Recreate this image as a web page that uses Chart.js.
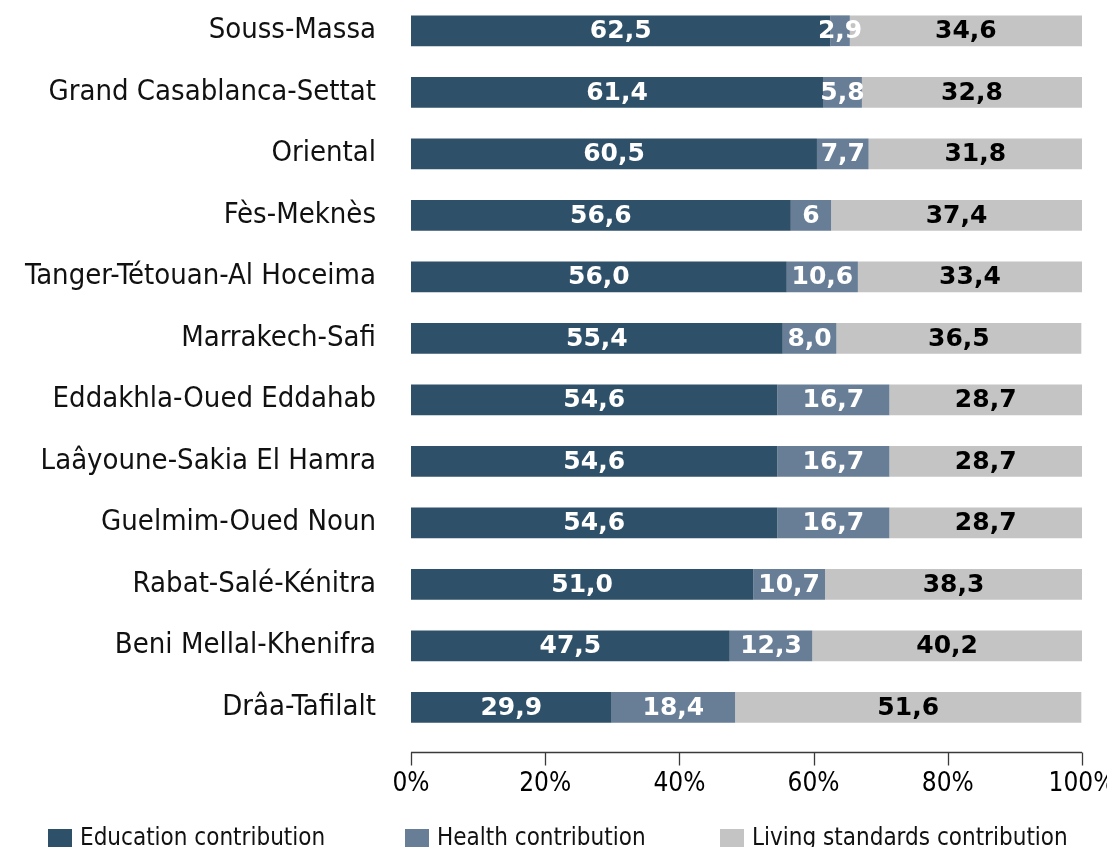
<!DOCTYPE html>
<html><head><meta charset="utf-8">
<script src="https://cdn.jsdelivr.net/npm/chart.js@4.4.1/dist/chart.umd.min.js"></script>
<style>
html,body{margin:0;padding:0;background:#fff;overflow:hidden;}
#wrap{position:relative;width:1107px;height:847px;overflow:hidden;}
#legend{position:absolute;left:48px;top:823px;display:flex;align-items:flex-start;white-space:nowrap;
  font-family:'DejaVu Sans Condensed','DejaVu Sans',sans-serif;font-size:24px;line-height:28px;color:#111;}
#legend .item{display:flex;align-items:flex-start;}
#legend .item:nth-child(1){width:357px;}
#legend .item:nth-child(2){width:315px;}
#legend .box{display:inline-block;width:24px;height:24px;margin-top:6px;margin-right:8px;}
</style></head><body>
<div id="wrap"><canvas id="c"></canvas><div id="legend"></div></div>
<script>
const categories = ['Souss-Massa','Grand Casablanca-Settat','Oriental','Fès-Meknès','Tanger-Tétouan-Al Hoceima','Marrakech-Safi','Eddakhla-Oued Eddahab','Laâyoune-Sakia El Hamra','Guelmim-Oued Noun','Rabat-Salé-Kénitra','Beni Mellal-Khenifra','Drâa-Tafilalt'];
const education = ['62,5','61,4','60,5','56,6','56,0','55,4','54,6','54,6','54,6','51,0','47,5','29,9'];
const health    = ['2,9','5,8','7,7','6','10,6','8,0','16,7','16,7','16,7','10,7','12,3','18,4'];
const living    = ['34,6','32,8','31,8','37,4','33,4','36,5','28,7','28,7','28,7','38,3','40,2','51,6'];
const seriesNames = ['Education contribution','Health contribution','Living standards contribution'];
const xTickLabels = ['0%','20%','40%','60%','80%','100%'];

const toNum = s => parseFloat(s.replace(',', '.'));
const condensed = "'DejaVu Sans Condensed', 'DejaVu Sans', sans-serif";
const narrow = "'Liberation Sans Narrow', 'DejaVu Sans Condensed', sans-serif";

const valueLabels = {
  id: 'valueLabels',
  afterDatasetsDraw(chart) {
    const ctx = chart.ctx;
    ctx.save();
    ctx.font = "bold 25px 'DejaVu Sans'";
    ctx.textAlign = 'center';
    ctx.textBaseline = 'middle';
    chart.data.datasets.forEach((ds, di) => {
      const meta = chart.getDatasetMeta(di);
      meta.data.forEach((el, i) => {
        const p = el.getCenterPoint();
        ctx.fillStyle = ds.labelColor;
        ctx.fillText(ds.texts[i], p.x, p.y + 1);
      });
    });
    ctx.restore();
  }
};

const axisLine = {
  id: 'axisLine',
  afterDraw(chart) {
    const {ctx, chartArea, scales: {x}} = chart;
    const y0 = Math.round(chartArea.bottom + 14) + 0.5;
    ctx.save();
    ctx.strokeStyle = '#3a3a3a';
    ctx.lineWidth = 1.3;
    ctx.beginPath();
    ctx.moveTo(chartArea.left, y0);
    ctx.lineTo(chartArea.right, y0);
    x.ticks.forEach((t, i) => {
      const px = Math.round(x.getPixelForTick(i)) + 0.5;
      ctx.moveTo(px, y0);
      ctx.lineTo(px, y0 + 13);
    });
    ctx.stroke();
    ctx.restore();
  }
};

const htmlLegend = {
  id: 'htmlLegend',
  afterUpdate(chart) {
    const box = document.getElementById('legend');
    box.innerHTML = '';
    Chart.defaults.plugins.legend.labels.generateLabels(chart).forEach(item => {
      const li = document.createElement('div');
      li.className = 'item';
      const sw = document.createElement('span');
      sw.className = 'box';
      sw.style.background = item.fillStyle;
      const tx = document.createElement('span');
      tx.textContent = item.text;
      li.append(sw, tx);
      box.append(li);
    });
  }
};

new Chart(document.getElementById('c'), {
  type: 'bar',
  data: {
    labels: categories,
    datasets: [
      {label: seriesNames[0], data: education.map(toNum), texts: education, labelColor: '#ffffff', backgroundColor: '#2f5069'},
      {label: seriesNames[1], data: health.map(toNum), texts: health, labelColor: '#ffffff', backgroundColor: '#687e97'},
      {label: seriesNames[2], data: living.map(toNum), texts: living, labelColor: '#000000', backgroundColor: '#c4c4c4'}
    ]
  },
  options: {
    indexAxis: 'y',
    animation: false,
    responsive: true,
    maintainAspectRatio: false,
    layout: {padding: {top: 0, left: 0, right: 0, bottom: 33}},
    datasets: {bar: {barPercentage: 0.5, categoryPercentage: 1.0, borderWidth: 0}},
    scales: {
      x: {
        stacked: true, min: 0, max: 100,
        ticks: {stepSize: 20, autoSkip: false, maxRotation: 0, padding: 31, color: '#000',
          font: {family: narrow, size: 26},
          callback: (v) => xTickLabels[Math.round(v / 20)]},
        grid: {display: false, drawTicks: false},
        border: {display: false},
        afterFit(s) { s.height = 76; s.paddingLeft = 0; s.paddingRight = 25; }
      },
      y: {
        stacked: true,
        ticks: {autoSkip: false, padding: 35, color: '#111', font: {family: condensed, size: 29}},
        grid: {display: false, drawTicks: false},
        border: {display: false},
        afterFit(s) { s.width = 411; s.paddingTop = 0; s.paddingBottom = 0; }
      }
    },
    plugins: {
      legend: {display: false},
      tooltip: {enabled: false}
    }
  },
  plugins: [valueLabels, axisLine, htmlLegend]
});
</script>
</body></html>
